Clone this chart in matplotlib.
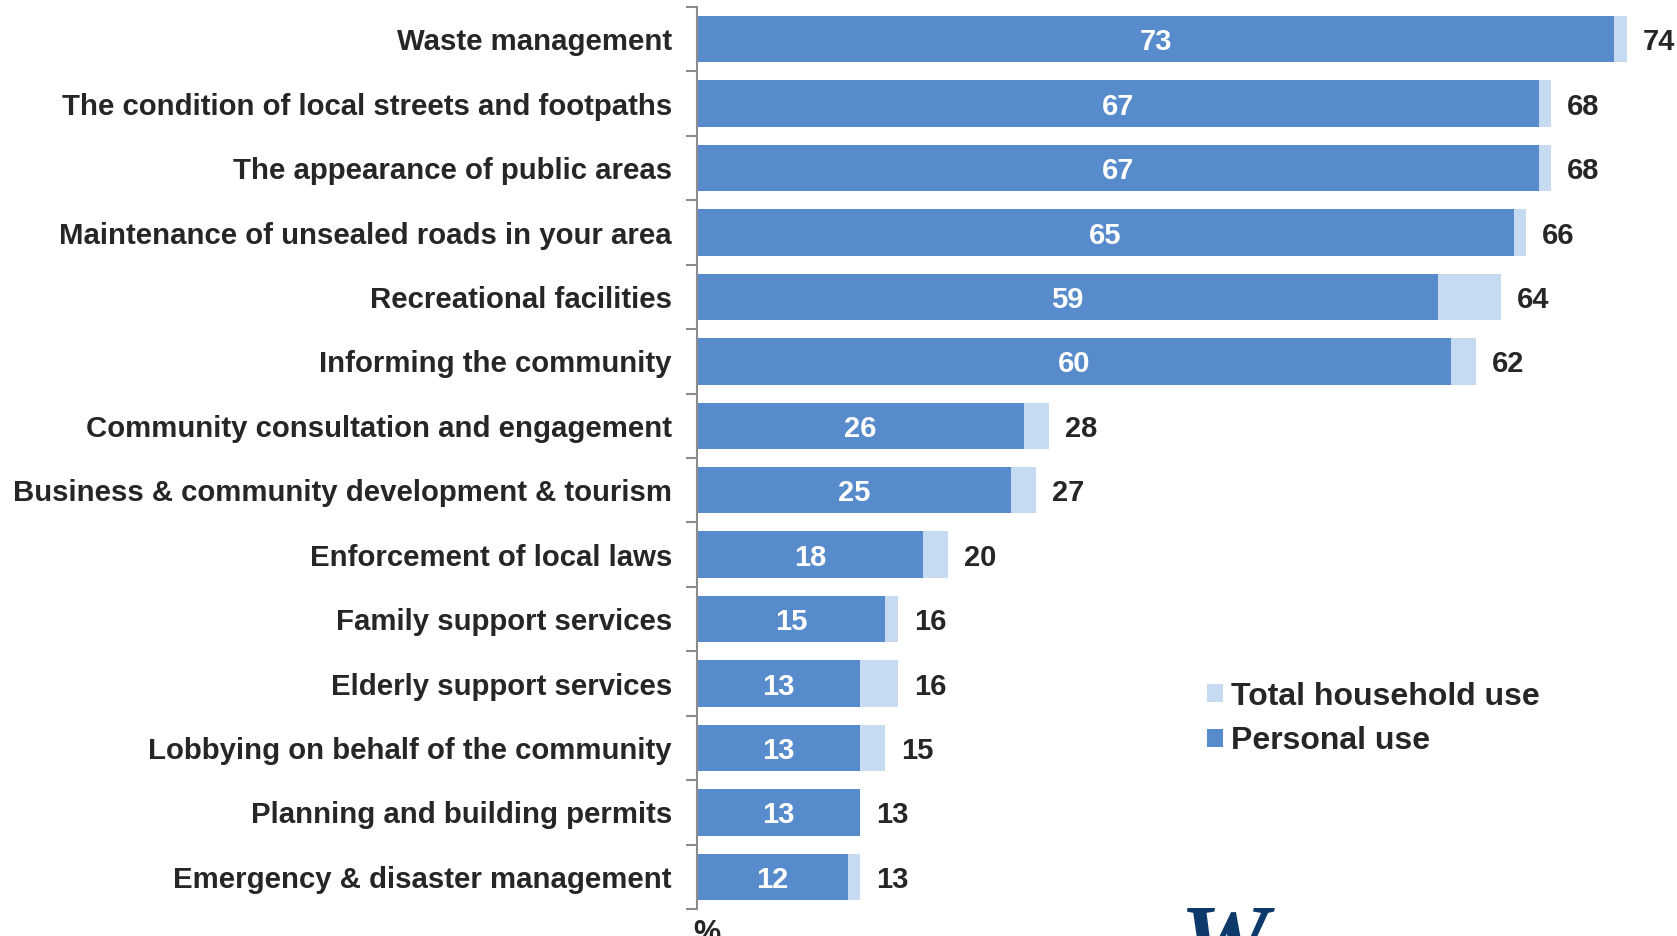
import matplotlib.pyplot as plt
import numpy as np

plt.rcParams['font.family'] = ['Liberation Sans', 'DejaVu Sans']

categories = [
    "Waste management",
    "The condition of local streets and footpaths",
    "The appearance of public areas",
    "Maintenance of unsealed roads in your area",
    "Recreational facilities",
    "Informing the community",
    "Community consultation and engagement",
    "Business & community development & tourism",
    "Enforcement of local laws",
    "Family support services",
    "Elderly support services",
    "Lobbying on behalf of the community",
    "Planning and building permits",
    "Emergency & disaster management",
]
personal_use = [73, 67, 67, 65, 59, 60, 26, 25, 18, 15, 13, 13, 13, 12]
household_use = [74, 68, 68, 66, 64, 62, 28, 27, 20, 16, 16, 15, 13, 13]

DARK = "#588BCB"
LIGHT = "#C6DBF1"
TEXT = "#262626"

fig = plt.figure(figsize=(16.77, 9.36), dpi=100)
ax = fig.add_axes([0.4156, 0.0288, 0.5844, 0.9637])

y = np.arange(len(categories))
h = 0.72
ax.barh(y, household_use, height=h, color=LIGHT, label="Total household use")
ax.barh(y, personal_use, height=h, color=DARK, label="Personal use")

for yi, p, t in zip(y, personal_use, household_use):
    ax.text(p / 2, yi, str(p), ha='center', va='center_baseline', color='white',
            fontsize=21, fontweight='bold')
    ax.annotate(str(t), (t, yi), xytext=(11.5, 0), textcoords='offset points',
                ha='left', va='center_baseline', color=TEXT, fontsize=21,
                fontweight='bold', annotation_clip=False)

ax.set_xlim(0, 78)
ax.set_ylim(len(categories) - 0.5, -0.5)
ax.set_xticks([])

# category separators as ticks, labels on minor ticks
ax.set_yticks(np.arange(len(categories) + 1) - 0.5)
ax.set_yticklabels([])
ax.tick_params(axis='y', which='major', length=8, width=1.5, color='#8c8c8c')
ax.set_yticks(y, minor=True)
ax.set_yticklabels(categories, minor=True, fontsize=21.2, fontweight='bold', color=TEXT)
ax.tick_params(axis='y', which='minor', length=0, pad=18)

for s in ['top', 'right', 'bottom']:
    ax.spines[s].set_visible(False)
ax.spines['left'].set_color('#8c8c8c')
ax.spines['left'].set_linewidth(1.5)

leg = ax.legend(loc='upper left', bbox_to_anchor=(0.491, 0.284), frameon=False,
                prop={'size': 23, 'weight': 'bold'}, handlelength=0.5,
                handleheight=0.5, handletextpad=0.25, labelspacing=0.45)
for t in leg.get_texts():
    t.set_color(TEXT)

fig.text(0.4135, -0.014, "%", fontsize=22, fontweight='bold', color=TEXT,
         ha='left', va='bottom')
fig.text(0.703, -0.062, "W", fontsize=72, fontweight='bold', style='italic',
         color='#0d3a6b', family='Liberation Serif', ha='left', va='bottom')

fig.savefig("out.png", dpi=100)
